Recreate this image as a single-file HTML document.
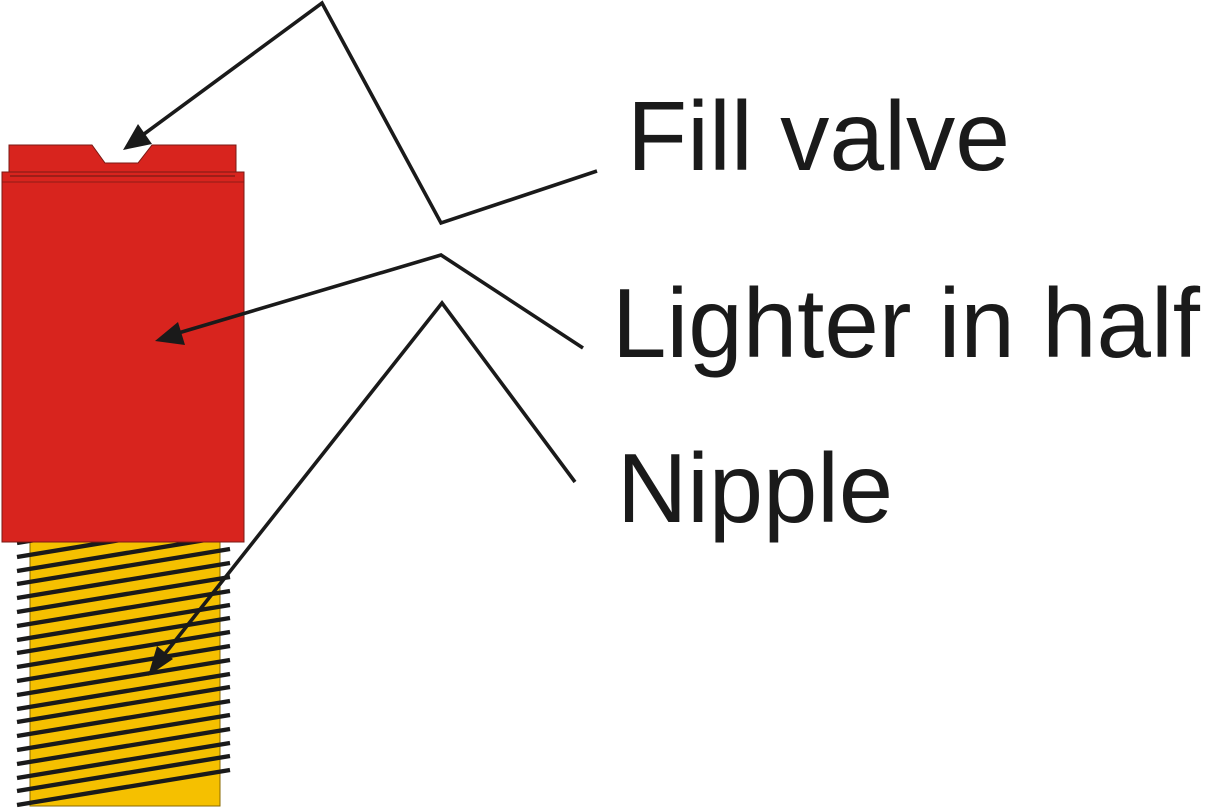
<!DOCTYPE html>
<html><head><meta charset="utf-8"><style>
html,body{margin:0;padding:0;background:#fff;}
svg{display:block;}
text{font-family:"Liberation Sans",Arial,sans-serif;fill:#1a1a1a;}
</style></head><body>
<svg width="1212" height="809" viewBox="0 0 1212 809" xmlns="http://www.w3.org/2000/svg">
<rect x="30" y="542" width="190" height="264" fill="#f5c000" stroke="#8a6a00" stroke-width="1"/>
<g stroke="#1a1a1a" stroke-width="4.4">
<line x1="17" y1="543" x2="230" y2="508"/>
<line x1="17" y1="557" x2="230" y2="522"/>
<line x1="17" y1="571" x2="230" y2="536"/>
<line x1="17" y1="584" x2="230" y2="549"/>
<line x1="17" y1="598" x2="230" y2="563"/>
<line x1="17" y1="612" x2="230" y2="577"/>
<line x1="17" y1="626" x2="230" y2="591"/>
<line x1="17" y1="640" x2="230" y2="605"/>
<line x1="17" y1="653" x2="230" y2="618"/>
<line x1="17" y1="667" x2="230" y2="632"/>
<line x1="17" y1="681" x2="230" y2="646"/>
<line x1="17" y1="695" x2="230" y2="660"/>
<line x1="17" y1="709" x2="230" y2="674"/>
<line x1="17" y1="722" x2="230" y2="687"/>
<line x1="17" y1="736" x2="230" y2="701"/>
<line x1="17" y1="750" x2="230" y2="715"/>
<line x1="17" y1="764" x2="230" y2="729"/>
<line x1="17" y1="778" x2="230" y2="743"/>
<line x1="17" y1="791" x2="230" y2="756"/>
<line x1="17" y1="805" x2="230" y2="770"/>
</g>
<polygon points="9,145 92,145 105,163 138,163 152,145 236,145 236,172 9,172" fill="#d8241e" stroke="#7a1a14" stroke-width="1"/>
<rect x="2" y="172" width="242" height="370" fill="#d8241e" stroke="#7a1a14" stroke-width="1"/>
<line x1="10" y1="176" x2="235" y2="176" stroke="#7a1a14" stroke-width="1.2"/>
<line x1="2" y1="182" x2="244" y2="182" stroke="#7a1a14" stroke-width="0.8"/>
<g fill="none" stroke="#1a1a1a" stroke-width="3.6">
<polyline points="597,171 441,223 322,3 140,137"/>
<polyline points="583,348 441,255 175,334"/>
<polyline points="575,482 442,303 160,660"/>
</g>
<g fill="#1a1a1a">
<polygon points="123,150 138,124 152,144"/>
<polygon points="155,341 178,322 185,345"/>
<polygon points="148,676 157,646 173,659"/>
</g>
<text x="627" y="170" font-size="98" textLength="383" lengthAdjust="spacingAndGlyphs">Fill valve</text>
<text x="612" y="357" font-size="98" textLength="588" lengthAdjust="spacingAndGlyphs">Lighter in half</text>
<text x="617" y="522" font-size="98" textLength="276" lengthAdjust="spacingAndGlyphs">Nipple</text>
</svg>
</body></html>
